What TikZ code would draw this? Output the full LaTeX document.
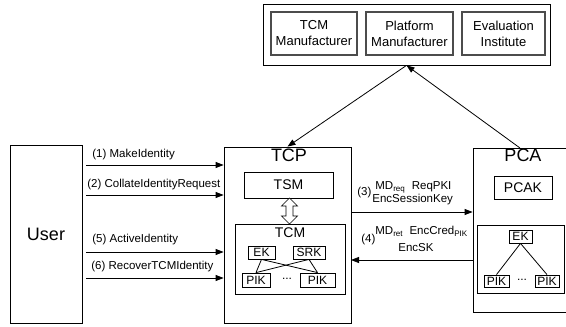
\documentclass[tikz,border=0pt]{standalone}
\usepackage{fontspec}
\setmainfont{Liberation Sans}
\usetikzlibrary{arrows.meta,calc}

\begin{document}
\begin{tikzpicture}[x=1pt,y=-1pt,
  line width=0.8pt,
  box/.style={draw, inner sep=0pt, align=center},
  orgbox/.style={draw=black!70, line width=1.3pt, inner sep=0pt, align=center,
    font=\fontsize{13}{16}\selectfont},
  keybox/.style={draw, inner sep=0pt, font=\fontsize{12}{12}\selectfont},
  big/.style={font=\fontsize{18}{18}\selectfont},
  mid/.style={font=\fontsize{14}{14}\selectfont},
  msg/.style={inner sep=0pt, font=\fontsize{11.5}{12}\selectfont},
  arr/.style={-{Triangle[length=8pt,width=6pt]}},
  ]
\useasboundingbox (0,0) rectangle (566,327);

% --- issuing organisations ---
\node[box, minimum width=287, minimum height=61] (orgs) at (406.5,34.5) {};
\node[orgbox, minimum width=86, minimum height=43] (tcmm) at (314,33.5) {TCM\\Manufacturer};
\node[orgbox, minimum width=87, minimum height=43] (platm) at (409.5,33.5) {Platform\\Manufacturer};
\node[orgbox, minimum width=83, minimum height=43] (evali) at (503.5,33.5) {Evaluation\\Institute};

% --- user ---
\node[box, big, minimum width=72, minimum height=178] (user) at (46,234) {User};

% --- trusted computing platform ---
\node[box, minimum width=127, minimum height=176] (tcp) at (287.5,235) {};
\node[big, inner sep=0pt] (tcplbl) at (289,155) {TCP};
\node[box, mid, minimum width=89, minimum height=26] (tsm) at (288.5,185) {TSM};
\node[box, minimum width=110, minimum height=70] (tcm) at (290,259) {};
\node[mid, inner sep=0pt] (tcmlbl) at (290,233) {TCM};
\node[keybox, minimum width=27, minimum height=13] (ek1) at (261.5,252.5) {EK};
\node[keybox, minimum width=32, minimum height=13] (srk) at (309,252.5) {SRK};
\node[keybox, minimum width=28, minimum height=14] (pik1) at (256,280) {PIK};
\node[keybox, minimum width=35, minimum height=14] (pik2) at (317.5,280) {PIK};
\node[keybox, draw=none] (dots1) at (287,279) {...};
\draw (ek1.south) -- (pik1.north);
\draw (ek1.south) -- (pik2.north);
\draw (srk.south) -- (pik1.north);
\draw (srk.south) -- (pik2.north);

% TSM <-> TCM interface (hollow double arrow)
\draw[fill=white, line width=0.7pt]
  (289.5,198) -- (297.5,206) -- (293,206) -- (293,216) -- (297.5,216)
  -- (289.5,224) -- (281.5,216) -- (286,216) -- (286,206) -- (281.5,206) -- cycle;

% --- privacy CA (its right side runs past the page edge) ---
\node[box, minimum width=110, minimum height=164] (pca) at (528,230) {};
\coordinate (pcatop) at (520,148);
\node[big, inner sep=0pt] (pcalbl) at (523,155) {PCA};
\node[box, mid, minimum width=58, minimum height=23] (pcak) at (523,187.5) {PCAK};
\node[box, minimum width=87, minimum height=68] (pcain) at (520.5,259) {};
\node[keybox, minimum width=23, minimum height=13] (ek2) at (520.5,236.5) {EK};
\node[keybox, minimum width=25, minimum height=12] (pik3) at (496.5,281) {PIK};
\node[keybox, minimum width=24, minimum height=12] (pik4) at (547,281) {PIK};
\node[keybox, draw=none] (dots2) at (522,280) {...};
\draw (ek2.south) -- (pik3.north);
\draw (ek2.south) -- (pik4.north);

% --- certification flow ---
\draw[arr] (orgs.south) -- (tcp.north);
\draw[arr] (pcatop) -- (orgs.south);

% --- user commands ---
\coordinate (u1) at (86,165);
\coordinate (u2) at (86,195);
\coordinate (u5) at (86,252);
\coordinate (u6) at (86,278);
\draw[arr] (u1) -- (u1 -| tcp.west);
\draw[arr] (u2) -- (u2 -| tcp.west);
\draw[arr] (u5) -- (u5 -| tcp.west);
\draw[arr] (u6) -- (u6 -| tcp.west);
\node[msg, anchor=west] (l1) at (92,155) {(1) MakeIdentity};
\node[msg, anchor=west] (l2) at (87,185) {(2) CollateIdentityRequest};
\node[msg, anchor=west] (l5) at (92,240) {(5) ActiveIdentity};
\node[msg, anchor=west] (l6) at (91,267) {(6) RecoverTCMIdentity};

% --- TCP <-> PCA messages ---
\coordinate (m3) at (351,212);
\coordinate (m4) at (351,260);
\draw[arr] (m3) -- (m3 -| pca.west);
\draw[arr] (m4 -| pca.west) -- (m4);
\node[msg, anchor=west] (n3) at (357,193) {(3)};
\node[msg, anchor=west] (l3a) at (375,187) {MD\textsubscript{req}~ ReqPKI};
\node[msg, anchor=west] (l3b) at (372,200) {EncSessionKey};
\node[msg, anchor=west] (n4) at (361,240) {(4)};
\node[msg, anchor=west] (l4a) at (375,231) {MD\textsubscript{ret}~ EncCred\textsubscript{PIK}};
\node[msg, anchor=west] (l4b) at (398,248) {EncSK};
\end{tikzpicture}
\end{document}
